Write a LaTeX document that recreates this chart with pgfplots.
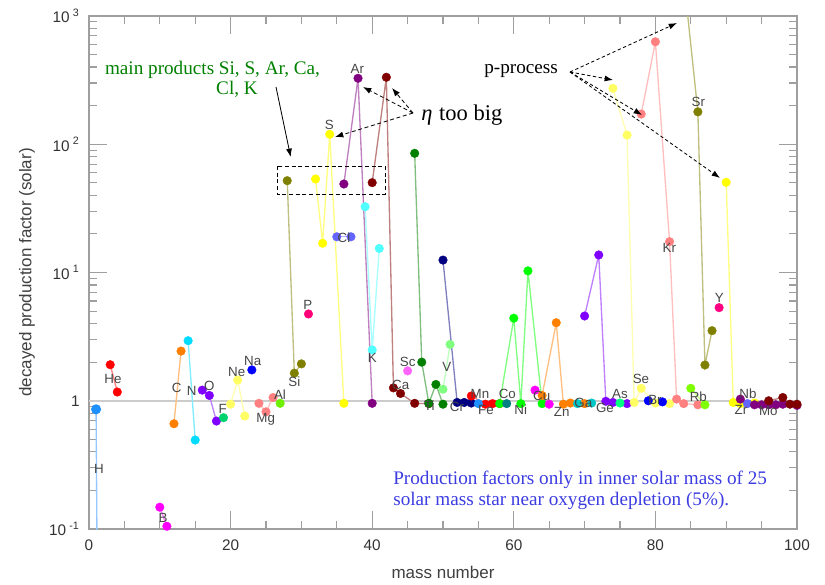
\documentclass[border=0pt]{standalone}
\usepackage{fontspec}
\setmainfont{Liberation Serif}
\setsansfont{Liberation Sans}
\usepackage{pgfplots}
\pgfplotsset{compat=1.18}
\usetikzlibrary{arrows.meta}

\definecolor{cH}{RGB}{30,144,255}
\definecolor{hlight}{RGB}{150,200,255}
\definecolor{cHe}{RGB}{255,0,0}
\definecolor{cB}{RGB}{255,0,255}
\definecolor{cC}{RGB}{255,128,0}
\definecolor{cN}{RGB}{0,220,255}
\definecolor{cO}{RGB}{127,0,255}
\definecolor{cF}{RGB}{0,210,110}
\definecolor{cNe}{RGB}{255,255,100}
\definecolor{cNa}{RGB}{0,0,255}
\definecolor{cMg}{RGB}{255,128,128}
\definecolor{cAl}{RGB}{110,240,0}
\definecolor{cSi}{RGB}{128,128,0}
\definecolor{cP}{RGB}{255,0,120}
\definecolor{cS}{RGB}{255,255,0}
\definecolor{cCl}{RGB}{100,100,255}
\definecolor{cAr}{RGB}{128,0,128}
\definecolor{cK}{RGB}{80,255,255}
\definecolor{cCa}{RGB}{128,0,0}
\definecolor{cSc}{RGB}{255,100,255}
\definecolor{cTi}{RGB}{0,128,0}
\definecolor{cV}{RGB}{128,255,128}
\definecolor{cCr}{RGB}{0,0,128}
\definecolor{cMn}{RGB}{30,144,255}
\definecolor{cFe}{RGB}{255,0,0}
\definecolor{cCo}{RGB}{0,128,128}
\definecolor{cNi}{RGB}{0,255,0}
\definecolor{cCu}{RGB}{255,0,255}
\definecolor{cZn}{RGB}{255,128,0}
\definecolor{cGa}{RGB}{0,200,200}
\definecolor{cGe}{RGB}{128,0,255}
\definecolor{cAs}{RGB}{0,255,128}
\definecolor{cSe}{RGB}{255,255,100}
\definecolor{cBr}{RGB}{0,0,255}
\definecolor{cKr}{RGB}{255,128,128}
\definecolor{cRb}{RGB}{128,255,0}
\definecolor{cSr}{RGB}{128,128,0}
\definecolor{cY}{RGB}{255,0,128}
\definecolor{cZr}{RGB}{255,255,0}
\definecolor{cNb}{RGB}{100,100,255}
\definecolor{cMo}{RGB}{128,0,128}
\definecolor{cRu}{RGB}{128,0,0}
\definecolor{tgreen}{RGB}{0,128,0}
\definecolor{tblue}{RGB}{60,60,225}
\definecolor{labgray}{RGB}{70,70,70}

\pgfplotsset{
  el/.style={color=#1!50!white, line width=0.8pt, mark=*, mark size=2.6pt,
    mark options={fill=#1, draw=#1, line width=0.2pt, solid}},
}

\begin{document}
\begin{tikzpicture}
\begin{scope}[x=0.6pt,y=-0.6pt,shift={(-53.4pt,317.4pt)}]
\path[use as bounding box] (0,0) rectangle (825,582);
\end{scope}
\begin{axis}[
  at={(0,0)}, anchor=south west, scale only axis,
  width=424.8pt, height=307.8pt,
  xmin=0, xmax=100, ymode=log, ymin=0.1, ymax=1000,
  xtick={0,20,40,60,80,100},
  minor xtick={5,10,15,25,30,35,45,50,55,65,70,75,85,90,95},
  xticklabels={0,20,40,60,80,100},
  ytick={0.1,1,10,100,1000},
  minor ytick={0.2,0.3,0.4,0.5,0.6,0.7,0.8,0.9,2,3,4,5,6,7,8,9,20,30,40,50,60,70,80,90,200,300,400,500,600,700,800,900},
  yticklabels={{10\hspace{2pt}\textsuperscript{-1}},{1},{10\hspace{2pt}\textsuperscript{1}},{10\hspace{2pt}\textsuperscript{2}},{10\hspace{2pt}\textsuperscript{3}}},
  tick align=inside, tick pos=both,
  major tick length=10.8pt, minor tick length=5pt,
  tick style={draw=gray!75, line width=0.7pt},
  axis line style={draw=gray!75, line width=1pt},
  ticklabel style={font=\fontsize{9.2}{11}\selectfont\sffamily, text=black!80},
  xticklabel style={yshift=-3pt},
  yticklabel style={xshift=-2pt},
  xlabel={mass number},
  ylabel={decayed production factor (solar)},
  label style={font=\fontsize{10.2}{12}\selectfont\sffamily, text=black!75},
  xlabel style={at={(axis description cs:0.5,-0.0844)}, anchor=center},
  ylabel style={at={(axis description cs:-0.0876,0.5)}, anchor=center},
  extra y ticks={1}, extra y tick labels={},
  extra y tick style={grid=major, major grid style={draw=gray!40, line width=1.2pt}, major tick length=0pt},
]
\addplot[color=hlight, line width=0.8pt, mark=*, mark size=2.6pt, mark options={fill=cH, draw=cH}] coordinates {(1,0.858) (2,1e-8)};
\addplot[el=cHe] coordinates {(3,1.91) (4,1.17)};
\addplot[el=cB] coordinates {(10,0.148) (11,0.105)};
\addplot[el=cC] coordinates {(12,0.662) (13,2.44)};
\addplot[el=cN] coordinates {(14,2.94) (15,0.494)};
\addplot[el=cO] coordinates {(16,1.21) (17,1.10) (18,0.695)};
\addplot[el=cF] coordinates {(19,0.738)};
\addplot[el=cNe] coordinates {(20,0.94) (21,1.45) (22,0.76)};
\addplot[el=cNa] coordinates {(23,1.74)};
\addplot[el=cMg] coordinates {(24,0.955) (25,0.82) (26,1.06)};
\addplot[el=cAl] coordinates {(27,0.955)};
\addplot[el=cSi] coordinates {(28,52.0) (29,1.64) (30,1.94)};
\addplot[el=cP] coordinates {(31,4.75)};
\addplot[el=cS] coordinates {(32,53.6) (33,16.9) (34,119.6) (36,0.955)};
\addplot[el=cCl] coordinates {(35,19.0) (37,19.0)};
\addplot[el=cAr] coordinates {(36,49) (38,327) (40,0.955)};
\addplot[el=cK] coordinates {(39,32.6) (40,2.49) (41,15.4)};
\addplot[el=cCa] coordinates {(40,50.2) (42,333) (43,1.26) (44,1.14) (46,0.955) (48,0.95)};
\addplot[el=cSc] coordinates {(45,1.71)};
\addplot[el=cTi] coordinates {(46,85) (47,2.0) (48,0.955) (49,1.34) (50,0.94)};
\addplot[el=cV] coordinates {(50,1.23) (51,2.75)};
\addplot[el=cCr] coordinates {(50,12.5) (52,0.97) (53,0.97) (54,0.96)};
\addplot[el=cFe] coordinates {(54,1.09) (56,0.94) (57,0.95) (58,0.95)};
\addplot[el=cMn] coordinates {(55,0.95)};
\addplot[el=cNi] coordinates {(58,0.95) (60,4.4) (61,0.95) (62,10.3) (64,0.95)};
\addplot[el=cCo] coordinates {(59,0.95)};
\addplot[el=cCu] coordinates {(63,1.21) (65,0.94)};
\addplot[el=cZn] coordinates {(64,1.1) (66,4.06) (67,0.94) (68,0.96) (70,0.95)};
\addplot[el=cGa] coordinates {(69,0.95) (71,0.96)};
\addplot[el=cGe] coordinates {(70,4.58) (72,13.7) (73,0.99) (74,0.97) (76,0.95)};
\addplot[el=cAs] coordinates {(75,0.96)};
\addplot[el=cSe] coordinates {(74,273) (76,118) (77,0.97) (78,1.25) (80,0.96) (82,0.95)};
\addplot[el=cBr] coordinates {(79,1.0) (81,0.98)};
\addplot[el=cKr] coordinates {(78,172) (80,630) (82,17.4) (83,1.03) (84,0.95) (86,0.93)};
\addplot[el=cRb] coordinates {(85,1.25) (87,0.93)};
\addplot[el=cSr] coordinates {(84,2000) (86,179) (87,1.90) (88,3.52)};
\addplot[el=cY] coordinates {(89,5.32)};
\addplot[el=cZr] coordinates {(90,50.5) (91,0.97) (92,0.95) (94,0.96) (96,0.94)};
\addplot[el=cNb] coordinates {(93,0.95)};
\addplot[el=cMo] coordinates {(92,1.03) (94,0.93) (95,0.93) (96,0.93) (97,0.93) (98,0.94) (100,0.92)};
\addplot[el=cRu] coordinates {(96,1.0) (98,1.06) (99,0.94) (100,0.94)};
\end{axis}

\begin{scope}[x=0.6pt,y=-0.6pt,shift={(-53.4pt,317.4pt)}]
\tikzset{lab/.style={font=\fontsize{8}{9}\selectfont\sffamily, text=labgray, inner sep=0pt}}
\node[lab] at (113,379) {He};
\node[lab] at (99,469) {H};
\node[lab] at (163,518) {B};
\node[lab] at (176.7,387.7) {C};
\node[lab] at (191.7,390.7) {N};
\node[lab] at (209.3,385.7) {O};
\node[lab] at (222.7,409) {F};
\node[lab] at (236.7,371.7) {Ne};
\node[lab] at (252.7,361) {Na};
\node[lab] at (265.7,419.3) {Mg};
\node[lab] at (280,395) {Al};
\node[lab] at (294.3,381.7) {Si};
\node[lab] at (307.7,305) {P};
\node[lab] at (329.3,125) {S};
\node[lab] at (344,238) {Cl};
\node[lab] at (357.3,69.3) {Ar};
\node[lab] at (372.3,357.7) {K};
\node[lab] at (400.7,385) {Ca};
\node[lab] at (407.7,362) {Sc};
\node[lab] at (429.3,406) {Ti};
\node[lab] at (446.7,366.7) {V};
\node[lab] at (457,406.7) {Cr};
\node[lab] at (480,394) {Mn};
\node[lab] at (486,410) {Fe};
\node[lab] at (507.3,394) {Co};
\node[lab] at (520.7,409.3) {Ni};
\node[lab] at (541.7,396) {Cu};
\node[lab] at (561.7,411.7) {Zn};
\node[lab] at (583.3,403.3) {Ga};
\node[lab] at (605,407.7) {Ge};
\node[lab] at (620,394) {As};
\node[lab] at (641,379.3) {Se};
\node[lab] at (655,400) {Br};
\node[lab] at (669.3,248.3) {Kr};
\node[lab] at (698.3,396.7) {Rb};
\node[lab] at (698.3,101.7) {Sr};
\node[lab] at (719.3,298.3) {Y};
\node[lab] at (748,394) {Nb};
\node[lab] at (741,410) {Zr};
\node[lab] at (768.3,411) {Mo};

% annotations
\node[anchor=base, font=\fontsize{11.5}{13}\selectfont, text=tgreen, inner sep=0pt] at (212.5,74) {main products Si, S, Ar, Ca,};
\node[anchor=base, font=\fontsize{11.5}{13}\selectfont, text=tgreen, inner sep=0pt] at (237,94) {Cl, K};
\draw[black, line width=0.5pt, -{Latex[length=5pt,width=3.6pt]}] (276,87) -- (290.7,157);
\draw[black, line width=0.5pt, dash pattern=on 2.4pt off 1.6pt] (277,166) rectangle (385,194);

\node[anchor=base west, font=\fontsize{13.5}{15}\selectfont, inner sep=0pt] at (421,120) {\textit{η}\hspace{4pt}too big};
\begin{scope}[black, line width=0.5pt, dash pattern=on 2.4pt off 1.6pt, -{Latex[length=5pt,width=3.6pt]}]
\draw (413,113) -- (363,87);
\draw (413,113) -- (392,88);
\draw (413,113) -- (335,137);
\end{scope}

\node[anchor=base west, font=\fontsize{11.5}{13}\selectfont, inner sep=0pt] at (484,73) {p-process};
\begin{scope}[black, line width=0.5pt, dash pattern=on 2pt off 1.5pt, -{Latex[length=5pt,width=3.6pt]}]
\draw (570,72) -- (677,23);
\draw (570,72) -- (613,80);
\draw (570,72) -- (642,115);
\draw (570,72) -- (720,178);
\end{scope}

\node[anchor=base west, font=\fontsize{11.5}{13}\selectfont, text=tblue, inner sep=0pt] at (393,484) {Production factors only in inner solar mass of 25};
\node[anchor=base west, font=\fontsize{11.5}{13}\selectfont, text=tblue, inner sep=0pt] at (393,505) {solar mass star near oxygen depletion (5\%).};
\end{scope}
\end{tikzpicture}
\end{document}
